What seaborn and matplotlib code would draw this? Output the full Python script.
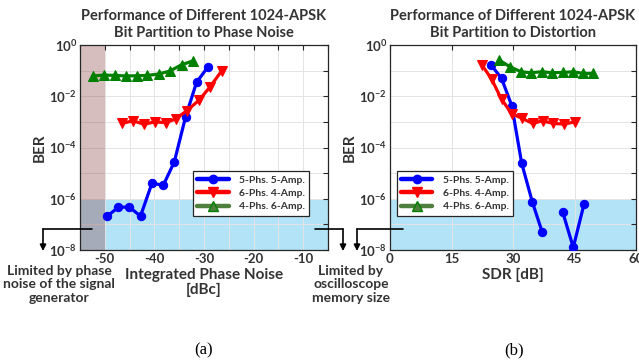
import numpy as np
import pandas as pd
import matplotlib
matplotlib.use('Agg')
import matplotlib.pyplot as plt
import matplotlib.ticker as mticker
from matplotlib.lines import Line2D
import seaborn as sns

# ---- data ----
labels = ['5-Phs. 5-Amp.', '6-Phs. 4-Amp.', '4-Phs. 6-Amp.']

# (a) BER vs integrated phase noise [dBc]
pn_blue_x = [-49.5, -47.3, -45.1, -42.8, -40.5, -38.2, -36.0, -33.7, -31.5, -29.2]
pn_blue_y = [2.1e-7, 4.6e-7, 4.8e-7, 2.1e-7, 4.0e-6, 3.4e-6, 2.7e-5, 1.6e-3, 3.5e-2, 1.4e-1]
pn_red_x = [-46.6, -44.3, -42.1, -39.9, -37.7, -35.7, -33.5, -31.0, -28.8, -26.4]
pn_red_y = [8.7e-4, 1.1e-3, 8.1e-4, 1.0e-3, 9.3e-4, 1.3e-3, 2.7e-3, 7.0e-3, 2.3e-2, 1.0e-1]
pn_green_x = [-52.3, -50.2, -47.9, -45.7, -43.6, -41.4, -39.1, -36.9, -34.5, -32.2]
pn_green_y = [0.062, 0.067, 0.065, 0.062, 0.063, 0.065, 0.074, 0.096, 0.17, 0.24]

# (b) BER vs SDR [dB]; segment 1/2 = break where no errors were counted
sdr_blue_x = [24.6, 27.2, 29.7, 32.1, 34.7, 37.1, 42.1, 44.7, 47.3]
sdr_blue_y = [0.17, 0.05, 4.3e-3, 2.5e-5, 7.6e-7, 5.1e-8, 3.1e-7, 1.26e-8, 6.0e-7]
sdr_blue_seg = [1, 1, 1, 1, 1, 1, 2, 2, 2]
sdr_red_x = [22.4, 24.8, 27.2, 29.7, 32.1, 34.8, 37.2, 39.8, 42.5, 45.1]
sdr_red_y = [0.17, 0.046, 7.6e-3, 2.1e-3, 1.4e-3, 8.7e-4, 1.1e-3, 8.7e-4, 8.2e-4, 1.0e-3]
sdr_green_x = [26.6, 29.3, 32.0, 34.3, 37.0, 39.6, 42.1, 44.7, 47.1, 49.6]
sdr_green_y = [0.26, 0.14, 0.09, 0.083, 0.09, 0.083, 0.085, 0.09, 0.078, 0.078]

ber_threshold = 1e-6
pn_limit = -50

# ---- style ----
sns.set_style("white")
plt.rcParams['font.family'] = ['Lato', 'DejaVu Sans']
plt.rcParams['font.weight'] = 'bold'
plt.rcParams['mathtext.fontset'] = 'custom'
plt.rcParams['mathtext.rm'] = 'Lato:bold'
plt.rcParams['mathtext.it'] = 'Lato:bold'
plt.rcParams['mathtext.bf'] = 'Lato:bold'
plt.rcParams['axes.unicode_minus'] = False

txt_color = '#333333'
colors = ['#0000ff', '#ff0000', '#008000']
markers = ['o', 'v', '^']
msizes = [6, 7, 7]

fig = plt.figure(figsize=(6.39, 3.62), dpi=100)
W, H = 639, 362


def axes_px(left, top, right, bottom):
    return fig.add_axes([left / W, 1 - bottom / H, (right - left) / W, (bottom - top) / H])


def fp(x, y):
    # figure pixels measured from the top-left corner
    return (x, H - y)


ax1 = axes_px(80, 45, 328, 250)
ax2 = axes_px(390, 45, 636, 250)

# shaded regions
for ax in (ax1, ax2):
    ax.axhspan(1e-8, ber_threshold, color='#b3e3f6', zorder=0.5, lw=0)
ax1.axvspan(-55, pn_limit, color='#8c4545', alpha=0.35, zorder=0.6, lw=0)

# (a) curves
df_a = [
    pd.DataFrame({'x': pn_blue_x, 'y': pn_blue_y}),
    pd.DataFrame({'x': pn_red_x, 'y': pn_red_y}),
    pd.DataFrame({'x': pn_green_x, 'y': pn_green_y}),
]
for i, d in enumerate(df_a):
    sns.lineplot(data=d, x='x', y='y', ax=ax1, color=colors[i], marker=markers[i],
                 markersize=msizes[i], markeredgecolor=colors[i], linewidth=2.3,
                 sort=False, label=labels[i], zorder=3)

# (b) curves
df_b_blue = pd.DataFrame({'x': sdr_blue_x, 'y': sdr_blue_y, 'seg': sdr_blue_seg})
sns.lineplot(data=df_b_blue, x='x', y='y', units='seg', estimator=None, ax=ax2,
             color=colors[0], marker=markers[0], markersize=msizes[0],
             markeredgecolor=colors[0], linewidth=2.3, sort=False, zorder=3)
df_b = [
    pd.DataFrame({'x': sdr_red_x, 'y': sdr_red_y}),
    pd.DataFrame({'x': sdr_green_x, 'y': sdr_green_y}),
]
for i, d in enumerate(df_b, start=1):
    sns.lineplot(data=d, x='x', y='y', ax=ax2, color=colors[i], marker=markers[i],
                 markersize=msizes[i], markeredgecolor=colors[i], linewidth=2.3,
                 sort=False, zorder=3)

# axes formatting
yt = [10.0 ** k for k in range(0, -9, -1)]
ytl = [f'$10^{{{k}}}$' if k % 2 == 0 else '' for k in range(0, -9, -1)]
for ax in (ax1, ax2):
    ax.set_yscale('log')
    ax.set_ylim(1e-8, 1e0)
    ax.set_yticks(yt)
    ax.set_yticklabels(ytl)
    ax.yaxis.set_minor_locator(mticker.LogLocator(base=10, subs=np.arange(2, 10)))
    ax.yaxis.set_minor_formatter(mticker.NullFormatter())
    ax.grid(True, which='major', color='#e4e4e4', linewidth=0.7)
    ax.tick_params(which='both', direction='in', top=True, right=True,
                   colors='#262626', labelcolor=txt_color, labelsize=9.5, pad=2)
    ax.tick_params(which='major', length=3.5, width=0.8)
    ax.tick_params(which='minor', length=2, width=0.6)
    for s in ax.spines.values():
        s.set_color('#262626')
        s.set_linewidth(0.9)
    ax.set_ylabel('BER', fontsize=11, fontweight='bold', color=txt_color, labelpad=2)
    ax.set_axisbelow(True)

ax1.set_xlim(-55, -5)
ax1.set_xticks(np.arange(-55, -4, 5))
ax1.set_xticklabels(['' if v % 10 else str(v) for v in range(-55, -4, 5)])
ax1.set_xlabel('Integrated Phase Noise\n[dBc]', fontsize=11, fontweight='bold',
               color=txt_color, labelpad=2, linespacing=1.1)
ax1.set_title('Performance of Different 1024-APSK\nBit Partition to Phase Noise',
              fontsize=10.5, fontweight='bold', color=txt_color, pad=6, linespacing=1.2)

ax2.set_xlim(0, 60)
ax2.set_xticks([0, 15, 30, 45, 60])
ax2.set_xlabel('SDR [dB]', fontsize=11, fontweight='bold', color=txt_color, labelpad=2)
ax2.set_title('Performance of Different 1024-APSK\nBit Partition to Distortion',
              fontsize=10.5, fontweight='bold', color=txt_color, pad=6, linespacing=1.2)

# legends
handles = [Line2D([], [], color=c, marker=m, markersize=ms, markeredgecolor=mc, linewidth=3.2)
           for c, m, ms, mc in zip(['#0000ff', '#ff0000', '#4f7f3c'], markers, msizes, colors)]
for ax, x0 in ((ax1, 0.456), (ax2, 0.028)):
    leg = ax.legend(handles, labels, loc='upper left', bbox_to_anchor=(x0, 0.385),
                    fontsize=7.5, frameon=True, fancybox=False, framealpha=1,
                    edgecolor='#262626', handlelength=3.0, borderpad=0.4,
                    labelspacing=0.4, handletextpad=1.0, borderaxespad=0)
    leg.get_frame().set_linewidth(0.9)
    for t in leg.get_texts():
        t.set_color(txt_color)
        t.set_fontweight('bold')

# annotations for the measurement limits
arrow_kw = dict(arrowstyle='-|>', color='black', lw=1.2, mutation_scale=9,
                shrinkA=0, shrinkB=0)


def hline(x0, x1, y):
    fig.add_artist(Line2D([x0 / W, x1 / W], [1 - y / H, 1 - y / H], color='black', lw=1.2,
                          transform=fig.transFigure))


def down_arrow(x, y0, y1):
    ax1.annotate('', xy=fp(x, y1), xytext=fp(x, y0), xycoords='figure pixels',
                 textcoords='figure pixels', arrowprops=arrow_kw, annotation_clip=False)


hline(43, 92, 229)
down_arrow(43, 229, 251)
hline(315, 343, 229)
down_arrow(343, 229, 251)
hline(357, 403, 229)
down_arrow(357, 229, 251)

fig.text(59 / W, 1 - 265 / H, 'Limited by phase\nnoise of the signal\ngenerator',
         ha='center', va='top', fontsize=10, fontweight='bold', color=txt_color,
         linespacing=1.15)
fig.text(351 / W, 1 - 265 / H, 'Limited by\noscilloscope\nmemory size',
         ha='center', va='top', fontsize=10, fontweight='bold', color=txt_color,
         linespacing=1.15)

fig.text(204 / W, 1 - 350 / H, '(a)', ha='center', va='center', fontsize=12,
         family=['Liberation Serif', 'DejaVu Serif'], fontweight='normal', color='black')
fig.text(514 / W, 1 - 350 / H, '(b)', ha='center', va='center', fontsize=12,
         family=['Liberation Serif', 'DejaVu Serif'], fontweight='normal', color='black')

fig.savefig('out.png', dpi=100)
